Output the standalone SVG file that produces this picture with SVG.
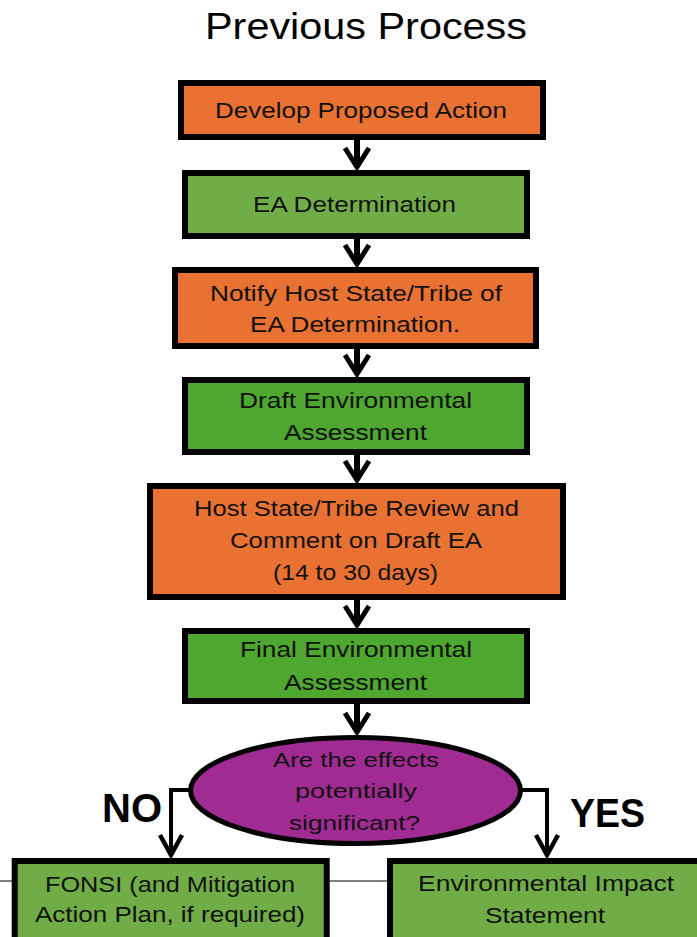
<svg xmlns="http://www.w3.org/2000/svg" width="697" height="937" viewBox="0 0 697 937">
<defs>
<style>
.box{stroke:#000;stroke-width:6}
.orange{fill:#E97132}
.green1{fill:#70AD47}
.green2{fill:#4EA72E}
.purple{fill:#A02B93}
.t{font-family:"Liberation Sans",Arial,sans-serif;font-size:22px;fill:#111;text-anchor:middle}
.e{font-size:21px}
.lbl{font-family:"Liberation Sans",Arial,sans-serif;font-weight:bold;fill:#000;text-anchor:middle}
.main{stroke:#000;stroke-width:6;fill:none}
.branch{stroke:#000;stroke-width:4;fill:none}
</style>
<marker id="chev" markerUnits="userSpaceOnUse" viewBox="-30 -20 40 40" refX="0" refY="0" markerWidth="40" markerHeight="40" orient="auto" overflow="visible">
<path d="M-19,-12 L0,0 L-19,12" fill="none" stroke="#000" stroke-width="5"/>
</marker>
<marker id="chev2" markerUnits="userSpaceOnUse" viewBox="-30 -20 40 40" refX="0" refY="0" markerWidth="40" markerHeight="40" orient="auto" overflow="visible">
<path d="M-20,-11 L0,0 L-20,11" fill="none" stroke="#000" stroke-width="4.5"/>
</marker>
</defs>
<rect width="697" height="937" fill="#fff"/>
<line x1="0" y1="881" x2="697" y2="881" stroke="#808080" stroke-width="2"/>
<text id="title" x="366" y="39" font-family="'Liberation Sans',Arial,sans-serif" font-size="37" fill="#000" text-anchor="middle" textLength="322" lengthAdjust="spacingAndGlyphs">Previous Process</text>
<g id="connectors">
<path class="main" d="M357,140 V167" marker-end="url(#chev)"/>
<path class="main" d="M357,239 V264" marker-end="url(#chev)"/>
<path class="main" d="M357,349 V374" marker-end="url(#chev)"/>
<path class="main" d="M357,455 V480" marker-end="url(#chev)"/>
<path class="main" d="M357,600 V625" marker-end="url(#chev)"/>
<path class="main" d="M357,704 V732" marker-end="url(#chev)"/>
<path class="branch" d="M190,790 H171 V855" marker-end="url(#chev2)"/>
<path class="branch" d="M521,790 H547 V855" marker-end="url(#chev2)"/>
</g>
<g id="n1">
<rect class="box orange" x="181" y="83" width="362" height="54"/>
<text class="t" x="361" y="118" textLength="292" lengthAdjust="spacingAndGlyphs">Develop Proposed Action</text>
</g>
<g id="n2">
<rect class="box green1" x="185" y="173" width="342" height="63"/>
<text class="t" x="354.5" y="212" textLength="203" lengthAdjust="spacingAndGlyphs">EA Determination</text>
</g>
<g id="n3">
<rect class="box orange" x="175" y="270" width="361" height="76"/>
<text class="t" x="356" y="301" textLength="292" lengthAdjust="spacingAndGlyphs">Notify Host State/Tribe of</text>
<text class="t" x="355" y="332" textLength="210" lengthAdjust="spacingAndGlyphs">EA Determination.</text>
</g>
<g id="n4">
<rect class="box green2" x="185" y="380" width="342" height="72"/>
<text class="t" x="355.5" y="408" textLength="233" lengthAdjust="spacingAndGlyphs">Draft Environmental</text>
<text class="t" x="355.5" y="440" textLength="143" lengthAdjust="spacingAndGlyphs">Assessment</text>
</g>
<g id="n5">
<rect class="box orange" x="150" y="486" width="413" height="111"/>
<text class="t" x="356.5" y="516" textLength="325" lengthAdjust="spacingAndGlyphs">Host State/Tribe Review and</text>
<text class="t" x="356" y="548" textLength="252" lengthAdjust="spacingAndGlyphs">Comment on Draft EA</text>
<text class="t" x="355.5" y="580" textLength="165" lengthAdjust="spacingAndGlyphs">(14 to 30 days)</text>
</g>
<g id="n6">
<rect class="box green2" x="185" y="631" width="342" height="70"/>
<text class="t" x="356" y="657" textLength="232" lengthAdjust="spacingAndGlyphs">Final Environmental</text>
<text class="t" x="355.5" y="690" textLength="143" lengthAdjust="spacingAndGlyphs">Assessment</text>
</g>
<g id="decision">
<ellipse class="purple" cx="355.5" cy="790.5" rx="165" ry="53" stroke="#000" stroke-width="5"/>
<text class="t e" x="356" y="767" textLength="166" lengthAdjust="spacingAndGlyphs">Are the effects</text>
<text class="t e" x="356" y="798" textLength="122" lengthAdjust="spacingAndGlyphs">potentially</text>
<text class="t e" x="354.5" y="830" textLength="131" lengthAdjust="spacingAndGlyphs">significant?</text>
</g>
<g id="label-no">
<text class="lbl" x="132" y="822" font-size="41" textLength="60" lengthAdjust="spacingAndGlyphs">NO</text>
</g>
<g id="label-yes">
<text class="lbl" x="607.5" y="827" font-size="40" textLength="75" lengthAdjust="spacingAndGlyphs">YES</text>
</g>
<g id="n7">
<rect class="box green1" x="14.7" y="861" width="312" height="90"/>
<text class="t" x="170" y="892" textLength="250" lengthAdjust="spacingAndGlyphs">FONSI (and Mitigation</text>
<text class="t" x="170" y="922" textLength="270" lengthAdjust="spacingAndGlyphs">Action Plan, if required)</text>
</g>
<g id="n8">
<rect class="box green1" x="390" y="861" width="320" height="90"/>
<text class="t" x="546" y="891" textLength="256" lengthAdjust="spacingAndGlyphs">Environmental Impact</text>
<text class="t" x="545" y="923" textLength="120" lengthAdjust="spacingAndGlyphs">Statement</text>
</g>
</svg>
